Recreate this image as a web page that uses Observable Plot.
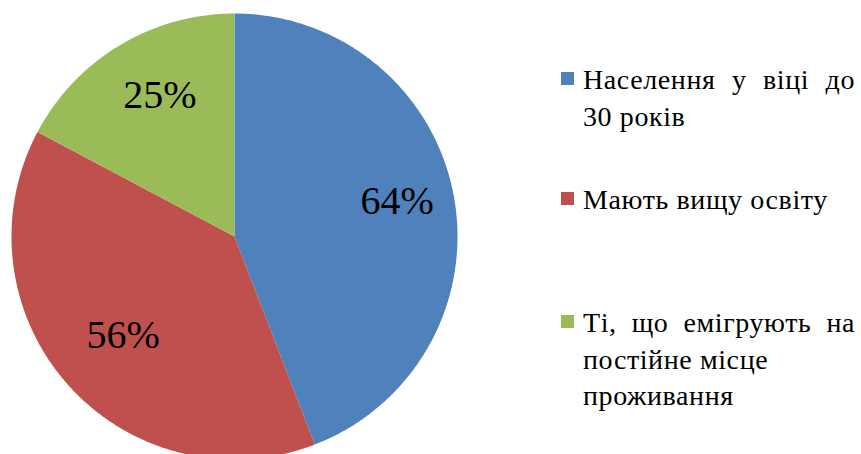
<!DOCTYPE html>
<html>
<head>
<meta charset="utf-8">
<script src="https://cdn.jsdelivr.net/npm/d3@7"></script>
<script src="https://cdn.jsdelivr.net/npm/@observablehq/plot@0.6"></script>
<style>
html, body { margin: 0; padding: 0; background: #fff; overflow: hidden; }
#wrap { position: relative; width: 861px; height: 454px; overflow: hidden; background: #fff; }
#chart { position: absolute; left: 0; top: 0; }
.leg { position: absolute; left: 561px; width: 294px; font-family: "Liberation Serif", "Times New Roman", Tinos, "DejaVu Serif", serif; font-size: 28px; line-height: 36.5px; color: #000; letter-spacing: 0.6px; }
.leg .sw { position: absolute; left: 0; top: 9.7px; width: 13px; height: 13px; }
.leg .tx { margin-left: 22px; white-space: nowrap; }
.leg .tx.just { text-align: justify; text-align-last: justify; }
</style>
</head>
<body>
<div id="wrap"><div id="chart"></div></div>
<script>
// ---- data ----
const categories = [
  "Населення у віці до 30 років",
  "Мають вищу освіту",
  "Ті, що емігрують на постійне місце проживання"
];
const legendLines = [
  ["Населення у віці до", "30 років"],
  ["Мають вищу освіту"],
  ["Ті, що емігрують на", "постійне місце", "проживання"]
];
const values = [64, 56, 25];
const valueLabels = ["64%", "56%", "25%"];
const colors = ["#4F81BD", "#C0504D", "#9BBB59"];

// ---- build table ----
const data = categories.map((c, i) => ({category: c, value: values[i], label: valueLabels[i]}));
const pie = d3.pie().sort(null).value(d => d.value)(data);

function arcRing(a0, a1) {
  const ring = [[0, 0]];
  const n = Math.max(2, Math.ceil((a1 - a0) / (Math.PI / 360)));
  for (let k = 0; k <= n; k++) {
    const a = a0 + (a1 - a0) * k / n;
    ring.push([Math.sin(a), -Math.cos(a)]);
  }
  ring.push([0, 0]);
  return ring;
}

const slices = pie.map(p => ({
  type: "Feature",
  properties: {category: p.data.category},
  geometry: {type: "Polygon", coordinates: [arcRing(p.startAngle, p.endAngle)]}
}));

const labelRadius = 0.71;
const labelPts = pie.map(p => {
  const m = (p.startAngle + p.endAngle) / 2;
  return {label: p.data.label, x: labelRadius * Math.sin(m), y: -labelRadius * Math.cos(m)};
});

const circle = {type: "Polygon", coordinates: [arcRing(0, 2 * Math.PI).slice(1, -1).concat([[0, -1]])]};

const serif = "'Liberation Serif', 'Times New Roman', Tinos, 'DejaVu Serif', serif";

const plot = Plot.plot({
  width: 861,
  height: 459,
  marginLeft: 11,
  marginTop: 13,
  marginRight: 404,
  marginBottom: 0,
  projection: {type: "identity", domain: circle},
  color: {domain: categories, range: colors},
  marks: [
    Plot.geo(slices, {fill: d => d.properties.category, stroke: "none"}),
    Plot.text(labelPts, {
      x: "x", y: "y", text: "label",
      fontSize: 40, fontFamily: serif,
      fill: "#000", textAnchor: "middle", dx: 7, dy: -6
    })
  ]
});
plot.style.overflow = "hidden";
document.getElementById("chart").appendChild(plot);

// ---- legend (HTML) ----
const legendTops = [62.3, 182.3, 305.3];
const wrap = document.getElementById("wrap");
categories.forEach((c, i) => {
  const item = document.createElement("div");
  item.className = "leg";
  item.style.top = legendTops[i] + "px";
  item.title = c;
  const sw = document.createElement("div");
  sw.className = "sw";
  sw.style.background = colors[i];
  item.appendChild(sw);
  legendLines[i].forEach((line, j) => {
    const tx = document.createElement("div");
    tx.className = "tx" + (j === 0 && legendLines[i].length > 1 ? " just" : "");
    tx.textContent = line;
    item.appendChild(tx);
  });
  wrap.appendChild(item);
});
</script>
</body>
</html>
